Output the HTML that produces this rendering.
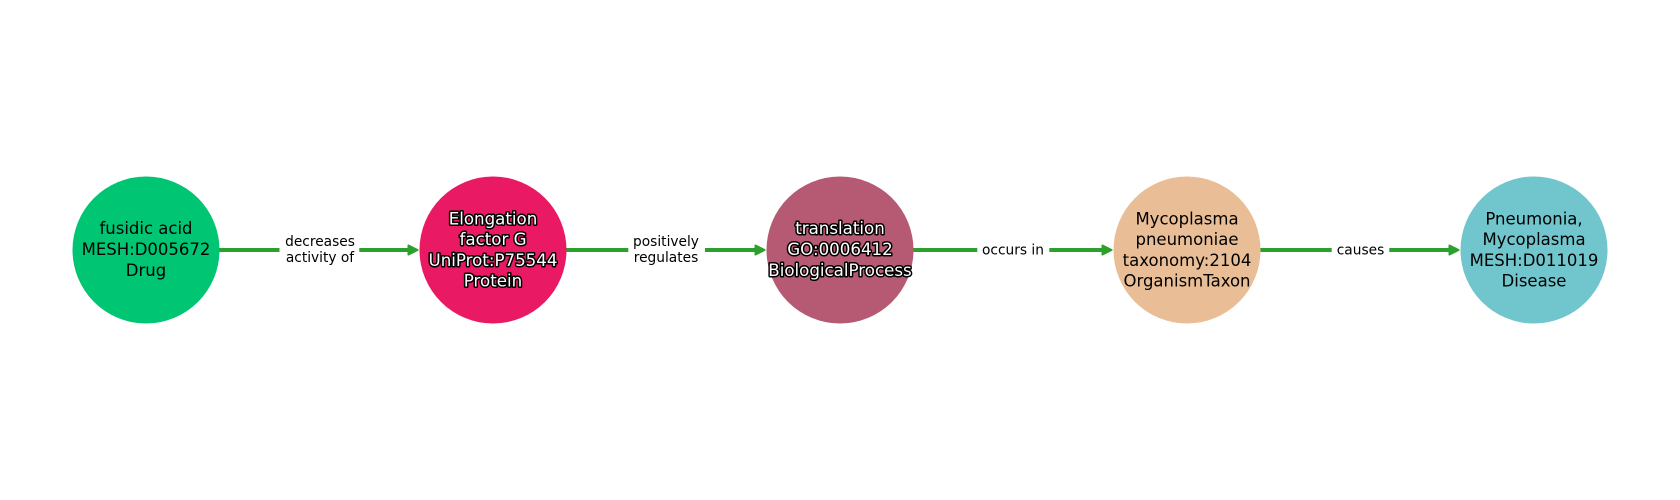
<!DOCTYPE html>
<html>
<head>
<meta charset="utf-8">
<style>
html,body{margin:0;padding:0;background:#fff;width:1680px;height:500px;overflow:hidden}
svg{display:block}
text{font-family:"DejaVu Sans","Liberation Sans",sans-serif;text-anchor:middle}
.n{font-size:16.5px;fill:#000}
.w{font-size:16.67px;fill:#fff;stroke:#000;stroke-width:3px;paint-order:stroke;stroke-linejoin:round}
.e{font-size:13.75px;fill:#000}
.l{stroke:#2ca02c;stroke-width:4px;fill:none}
.h{fill:#2ca02c;stroke:#2ca02c;stroke-width:2px;stroke-linejoin:round}
</style>
</head>
<body>
<svg width="1680" height="500" viewBox="0 0 1680 500" xmlns="http://www.w3.org/2000/svg">
<rect width="1680" height="500" fill="#fff"/>

<path class="l" d="M219 250H279.5M359.3 250H412"/>
<path class="h" d="M408.5 245.5L417.5 250L408.5 254.5Z"/>
<path class="l" d="M566 250H628.3M705 250H759"/>
<path class="h" d="M755.5 245.5L764.5 250L755.5 254.5Z"/>
<path class="l" d="M913 250H977.3M1049.3 250H1106"/>
<path class="h" d="M1102.5 245.5L1111.5 250L1102.5 254.5Z"/>
<path class="l" d="M1260 250H1331.7M1389.3 250H1453"/>
<path class="h" d="M1449.5 245.5L1458.5 250L1449.5 254.5Z"/>

<circle cx="146" cy="250" r="73.5" fill="#00c573"/>
<circle cx="493" cy="250" r="73.5" fill="#e91a63"/>
<circle cx="840" cy="250" r="73.5" fill="#b55a72"/>
<circle cx="1187" cy="250" r="73.5" fill="#e9be96"/>
<circle cx="1534" cy="250" r="73.5" fill="#70c6cc"/>

<text class="n" x="146" y="234">fusidic acid</text>
<text class="n" x="146" y="255">MESH:D005672</text>
<text class="n" x="146" y="275.8">Drug</text>

<text class="w" x="493" y="224.3">Elongation</text>
<text class="w" x="493" y="245">factor G</text>
<text class="w" x="493" y="266">UniProt:P75544</text>
<text class="w" x="493" y="286.5">Protein</text>

<text class="w" x="840" y="234">translation</text>
<text class="w" x="840" y="255">GO:0006412</text>
<text class="w" x="840" y="275.8">BiologicalProcess</text>

<text class="n" x="1187" y="224.3">Mycoplasma</text>
<text class="n" x="1187" y="245">pneumoniae</text>
<text class="n" x="1187" y="266">taxonomy:2104</text>
<text class="n" x="1187" y="286.5">OrganismTaxon</text>

<text class="n" x="1534" y="224.3">Pneumonia,</text>
<text class="n" x="1534" y="245">Mycoplasma</text>
<text class="n" x="1534" y="266">MESH:D011019</text>
<text class="n" x="1534" y="286.5">Disease</text>

<text class="e" x="320" y="246">decreases</text>
<text class="e" x="320" y="262">activity of</text>
<text class="e" x="666" y="246">positively</text>
<text class="e" x="666" y="262">regulates</text>
<text class="e" x="1013" y="254.5">occurs in</text>
<text class="e" x="1360.5" y="254.5">causes</text>
</svg>
</body>
</html>
